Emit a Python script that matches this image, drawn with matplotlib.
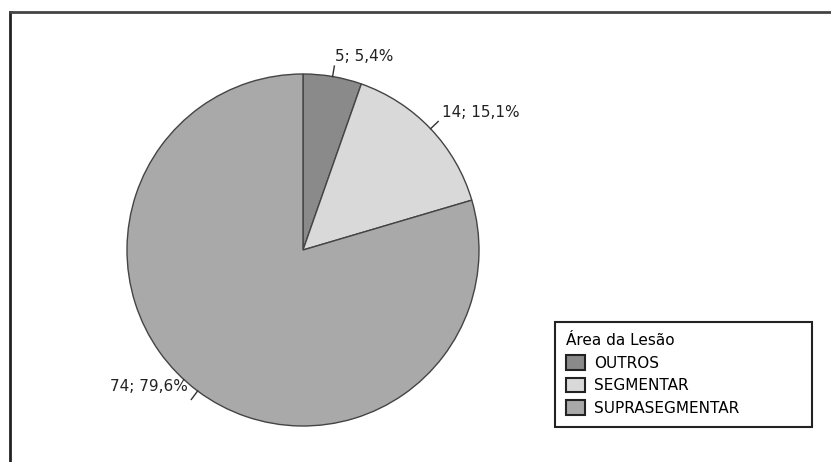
import numpy as np
import matplotlib
matplotlib.use("Agg")
import matplotlib.pyplot as plt
from matplotlib.lines import Line2D

# data
categories = ["OUTROS", "SEGMENTAR", "SUPRASEGMENTAR"]
counts = [5, 14, 74]
percents = ["5,4%", "15,1%", "79,6%"]
colors = ["#8a8a8a", "#d9d9d9", "#a9a9a9"]

fig = plt.figure(figsize=(8.31, 4.62), dpi=100)

# frame lines at top and left of the picture
fig.add_artist(Line2D([10/831, 10/831], [0, 1 - 12/462], transform=fig.transFigure,
                      color="#222222", lw=2))
fig.add_artist(Line2D([10/831, 1], [1 - 12/462, 1 - 12/462], transform=fig.transFigure,
                      color="#444444", lw=2))

cx, cy, r = 303, 250, 176
ax = fig.add_axes([(cx - r)/831, (462 - cy - r)/462, 2*r/831, 2*r/462])
wedges, _ = ax.pie(counts, colors=colors, startangle=90, counterclock=False,
                   wedgeprops=dict(edgecolor="#444444", linewidth=1.0))
ax.set_aspect("equal")
ax.set_xlim(-1, 1)
ax.set_ylim(-1, 1)
ax.axis("off")

for w, n, p in zip(wedges, counts, percents):
    ang = np.deg2rad((w.theta1 + w.theta2) / 2)
    x, y = np.cos(ang), np.sin(ang)
    ax.plot([x, 1.06*x], [y, 1.06*y], color="#333333", lw=1, clip_on=False)
    ha = "left" if x > 0 else "right"
    ty = 1.07*y if y > 0 else 1.07*y + 0.04
    ax.text(1.09*x, ty, f"{n}; {p}", ha=ha, va="bottom", fontsize=11,
            color="#222222")

leg = fig.legend(wedges, categories, title="Área da Lesão",
                 loc="lower left", mode="expand", borderaxespad=0,
                 bbox_to_anchor=(555/831, 35/462, 257/831, 109/462),
                 fontsize=11, title_fontsize=11, alignment="left",
                 handlelength=1.2, handleheight=1.1, handletextpad=0.6,
                 labelspacing=0.45, borderpad=0.75, fancybox=False,
                 framealpha=1, edgecolor="#222222")
leg.get_frame().set_linewidth(1.5)
for h in leg.legend_handles:
    h.set_edgecolor("#222222")
    h.set_linewidth(1.5)

fig.savefig("out.png", dpi=100)
